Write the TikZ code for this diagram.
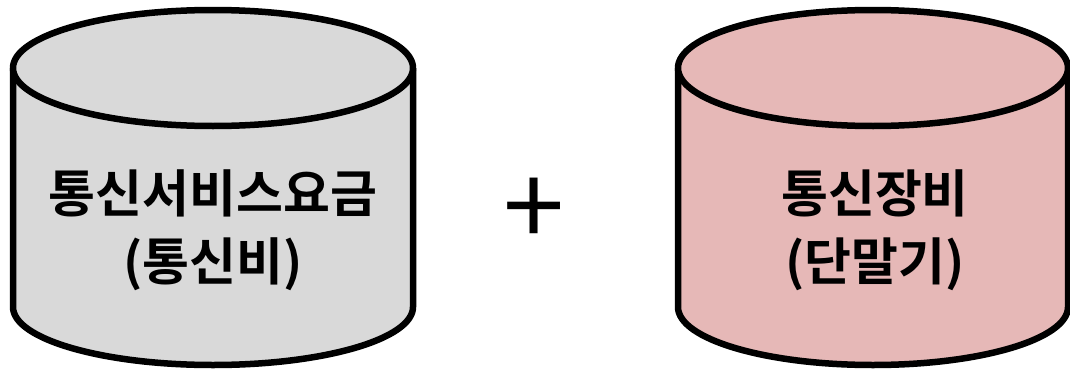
\documentclass[tikz,border=0pt]{standalone}
\usepackage{fontspec}
\usepackage{tikz}
\newfontfamily\krbold{Noto Sans CJK KR Bold}
\newfontfamily\krplain{Noto Sans CJK KR}
\definecolor{CanGray}{HTML}{D9D9D9}
\definecolor{CanRose}{HTML}{E6B8B7}

\begin{document}
\begin{tikzpicture}[x=1pt,y=1pt]
    \tikzset{
      can/.style={draw=black,line width=6.5pt,line join=round},
      label/.style={align=center,inner sep=0pt,
        font=\krbold\fontsize{51}{68}\selectfont}
    }
    \useasboundingbox (0,0) rectangle (1070,376);
    % two drums: centre x / radius x / fill
    \foreach \cx/\rx/\col in {213/200/CanGray,873/195/CanRose}{
      \draw[can,fill=\col] (\cx-\rx,308) -- (\cx-\rx,69)
        arc[start angle=180,end angle=360,x radius=\rx,y radius=58]
        -- (\cx+\rx,308);
      \draw[can,fill=\col] (\cx,308) ellipse[x radius=\rx,y radius=58];
    }
    \node[label] (fee) at (213,146) {통신서비스요금\\(통신비)};
    \node[label] (gear) at (875,146) {통신장비\\(단말기)};
    \node[inner sep=0pt,font=\krplain\fontsize{110}{110}\selectfont] (plus) at (534.5,163.5) {+};
  \end{tikzpicture}
\end{document}
